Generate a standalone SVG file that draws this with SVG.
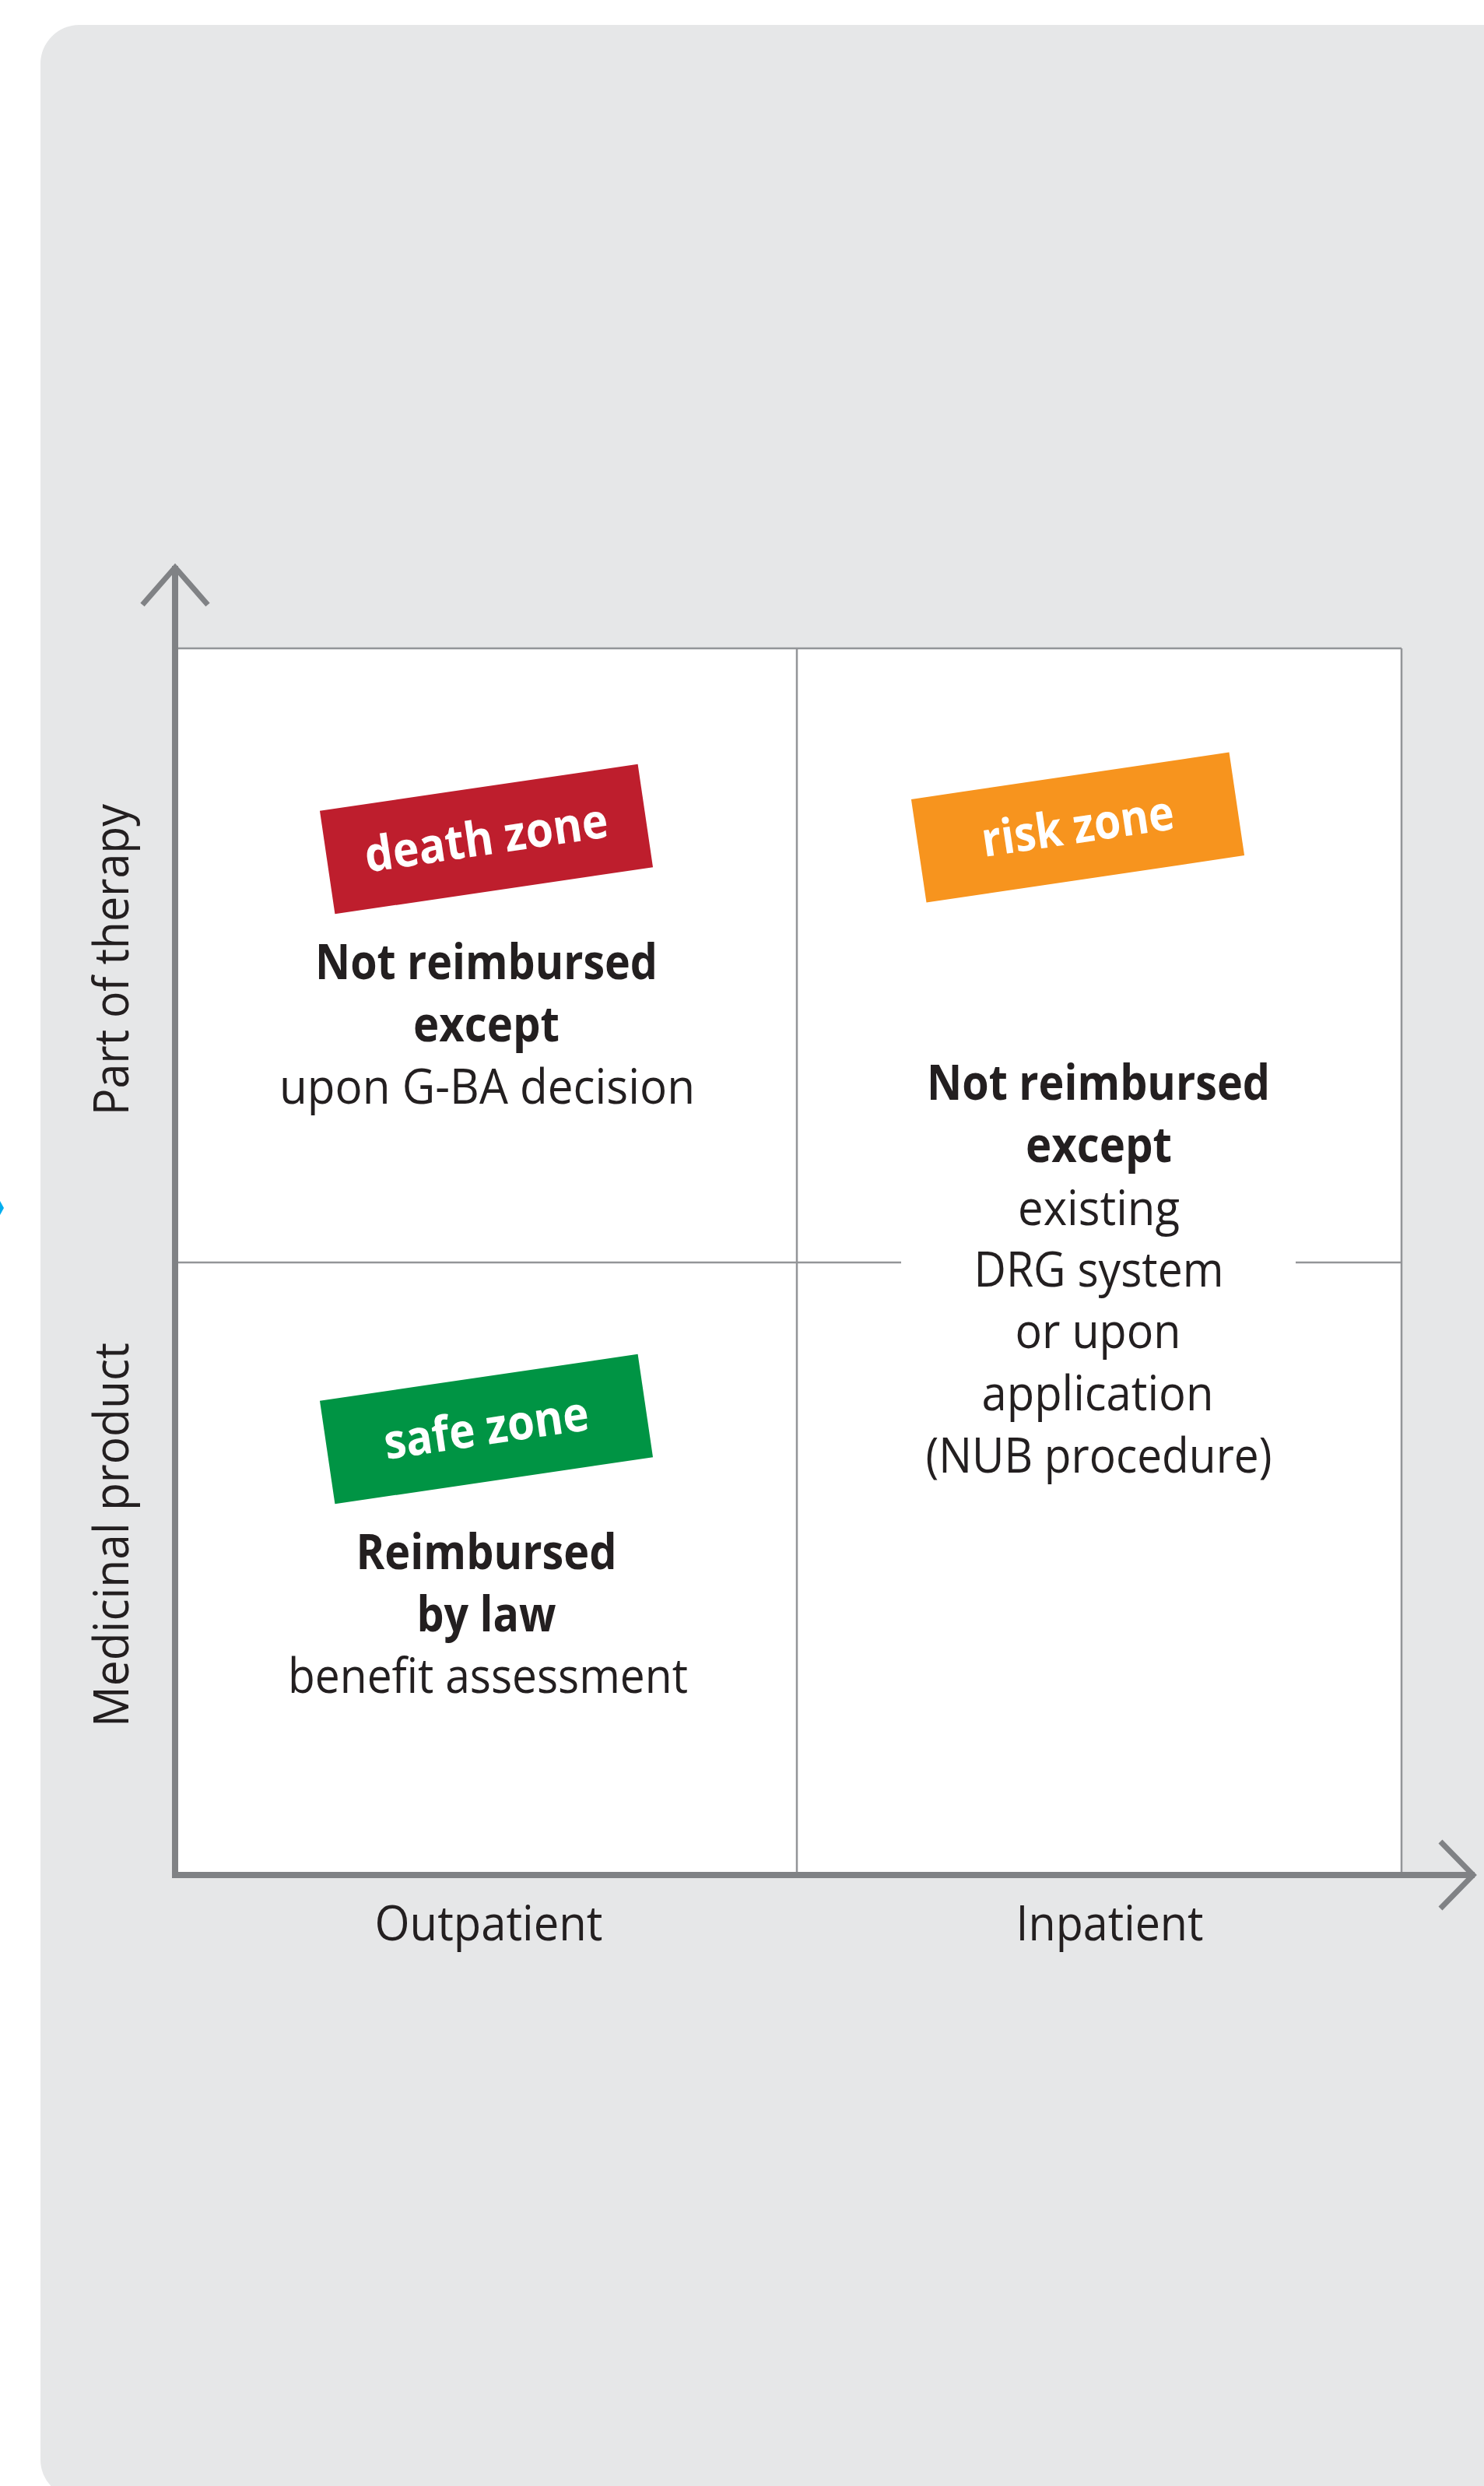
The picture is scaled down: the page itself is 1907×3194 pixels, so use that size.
<svg xmlns="http://www.w3.org/2000/svg" width="1907" height="3194" viewBox="0 0 1907 3194">
<defs>
<style>
.t{font-family:"Open Sans","Noto Sans","Liberation Sans",sans-serif;fill:#231F20;font-size:63px;text-anchor:middle}
.b{font-weight:700}
.z{font-family:"Open Sans","Noto Sans","Liberation Sans",sans-serif;font-weight:700;fill:#FFFFFF;font-size:62px;text-anchor:middle}
.grid{stroke:#939598;stroke-width:2.5;fill:none}
.axis{stroke:#808285;stroke-width:8;fill:none}
.head{stroke:#808285;stroke-width:7;fill:none;stroke-linejoin:miter;stroke-linecap:butt}
</style>
</defs>
<rect width="1907" height="3194" fill="#FFFFFF"/>
<rect id="background" x="52" y="32" width="1905" height="3178" rx="50" ry="50" fill="#E6E7E8"/>
<polygon id="edge-mark" fill="#00AEEF" points="0,1543 5,1552 0,1561"/>
<rect id="plot-area" x="229" y="833" width="1572" height="1575" fill="#FFFFFF"/>

<g id="connectors">
  <g id="grid">
    <line class="grid" x1="226" y1="833" x2="1801" y2="833"/>
    <line class="grid" x1="1801" y1="833" x2="1801" y2="2408"/>
    <line class="grid" x1="1024" y1="833" x2="1024" y2="2408"/>
    <line class="grid" x1="226" y1="1622" x2="1158" y2="1622"/>
    <line class="grid" x1="1665" y1="1622" x2="1801" y2="1622"/>
  </g>
  <g id="axes">
    <line class="axis" x1="225" y1="727" x2="225" y2="2413"/>
    <line class="axis" x1="221" y1="2409" x2="1895" y2="2409"/>
    <polyline class="head" points="183,777 225,729 267,777"/>
    <polyline class="head" points="1851,2366 1893,2409 1851,2452"/>
  </g>
</g>

<g id="axis-labels">
  <text class="t" transform="translate(165,1233) rotate(-90)" x="0" y="0" textLength="400" lengthAdjust="spacingAndGlyphs">Part of therapy</text>
  <text class="t" transform="translate(165,1972) rotate(-90)" x="0" y="0" textLength="494" lengthAdjust="spacingAndGlyphs">Medicinal product</text>
  <text class="t" x="628" y="2493" textLength="293" lengthAdjust="spacingAndGlyphs">Outpatient</text>
  <text class="t" x="1426" y="2493" textLength="241" lengthAdjust="spacingAndGlyphs">Inpatient</text>
</g>

<g id="death-zone">
  <g transform="translate(625,1078) rotate(-8.35)">
    <rect x="-206.5" y="-67" width="413" height="134" fill="#BE1E2D"/>
    <text class="z" x="0" y="20" textLength="315" lengthAdjust="spacingAndGlyphs">death zone</text>
  </g>
  <text class="t b" x="625" y="1258" textLength="440" lengthAdjust="spacingAndGlyphs">Not reimbursed</text>
  <text class="t b" x="625" y="1338" textLength="188" lengthAdjust="spacingAndGlyphs">except</text>
  <text class="t" x="626" y="1418" textLength="534" lengthAdjust="spacingAndGlyphs">upon G-BA decision</text>
</g>

<g id="risk-zone">
  <g transform="translate(1385,1063) rotate(-8.4)">
    <rect x="-206.5" y="-67" width="413" height="134" fill="#F7941E"/>
    <text class="z" x="0" y="20" textLength="249" lengthAdjust="spacingAndGlyphs">risk zone</text>
  </g>
  <text class="t b" x="1411.5" y="1413" textLength="441" lengthAdjust="spacingAndGlyphs">Not reimbursed</text>
  <text class="t b" x="1412" y="1493" textLength="188" lengthAdjust="spacingAndGlyphs">except</text>
  <text class="t" x="1412" y="1574" textLength="208" lengthAdjust="spacingAndGlyphs">existing</text>
  <text class="t" x="1412" y="1653" textLength="321" lengthAdjust="spacingAndGlyphs">DRG system</text>
  <text class="t" x="1411" y="1732" textLength="213" lengthAdjust="spacingAndGlyphs">or upon</text>
  <text class="t" x="1410.5" y="1812" textLength="298" lengthAdjust="spacingAndGlyphs">application</text>
  <text class="t" x="1412" y="1892" textLength="445" lengthAdjust="spacingAndGlyphs">(NUB procedure)</text>
</g>

<g id="safe-zone">
  <g transform="translate(625,1836) rotate(-8.35)">
    <rect x="-206.5" y="-67" width="413" height="134" fill="#009444"/>
    <text class="z" x="0" y="20" textLength="265" lengthAdjust="spacingAndGlyphs">safe zone</text>
  </g>
  <text class="t b" x="625" y="2016" textLength="335" lengthAdjust="spacingAndGlyphs">Reimbursed</text>
  <text class="t b" x="625" y="2096" textLength="179" lengthAdjust="spacingAndGlyphs">by law</text>
  <text class="t" x="627" y="2175" textLength="514" lengthAdjust="spacingAndGlyphs">benefit assessment</text>
</g>
</svg>
